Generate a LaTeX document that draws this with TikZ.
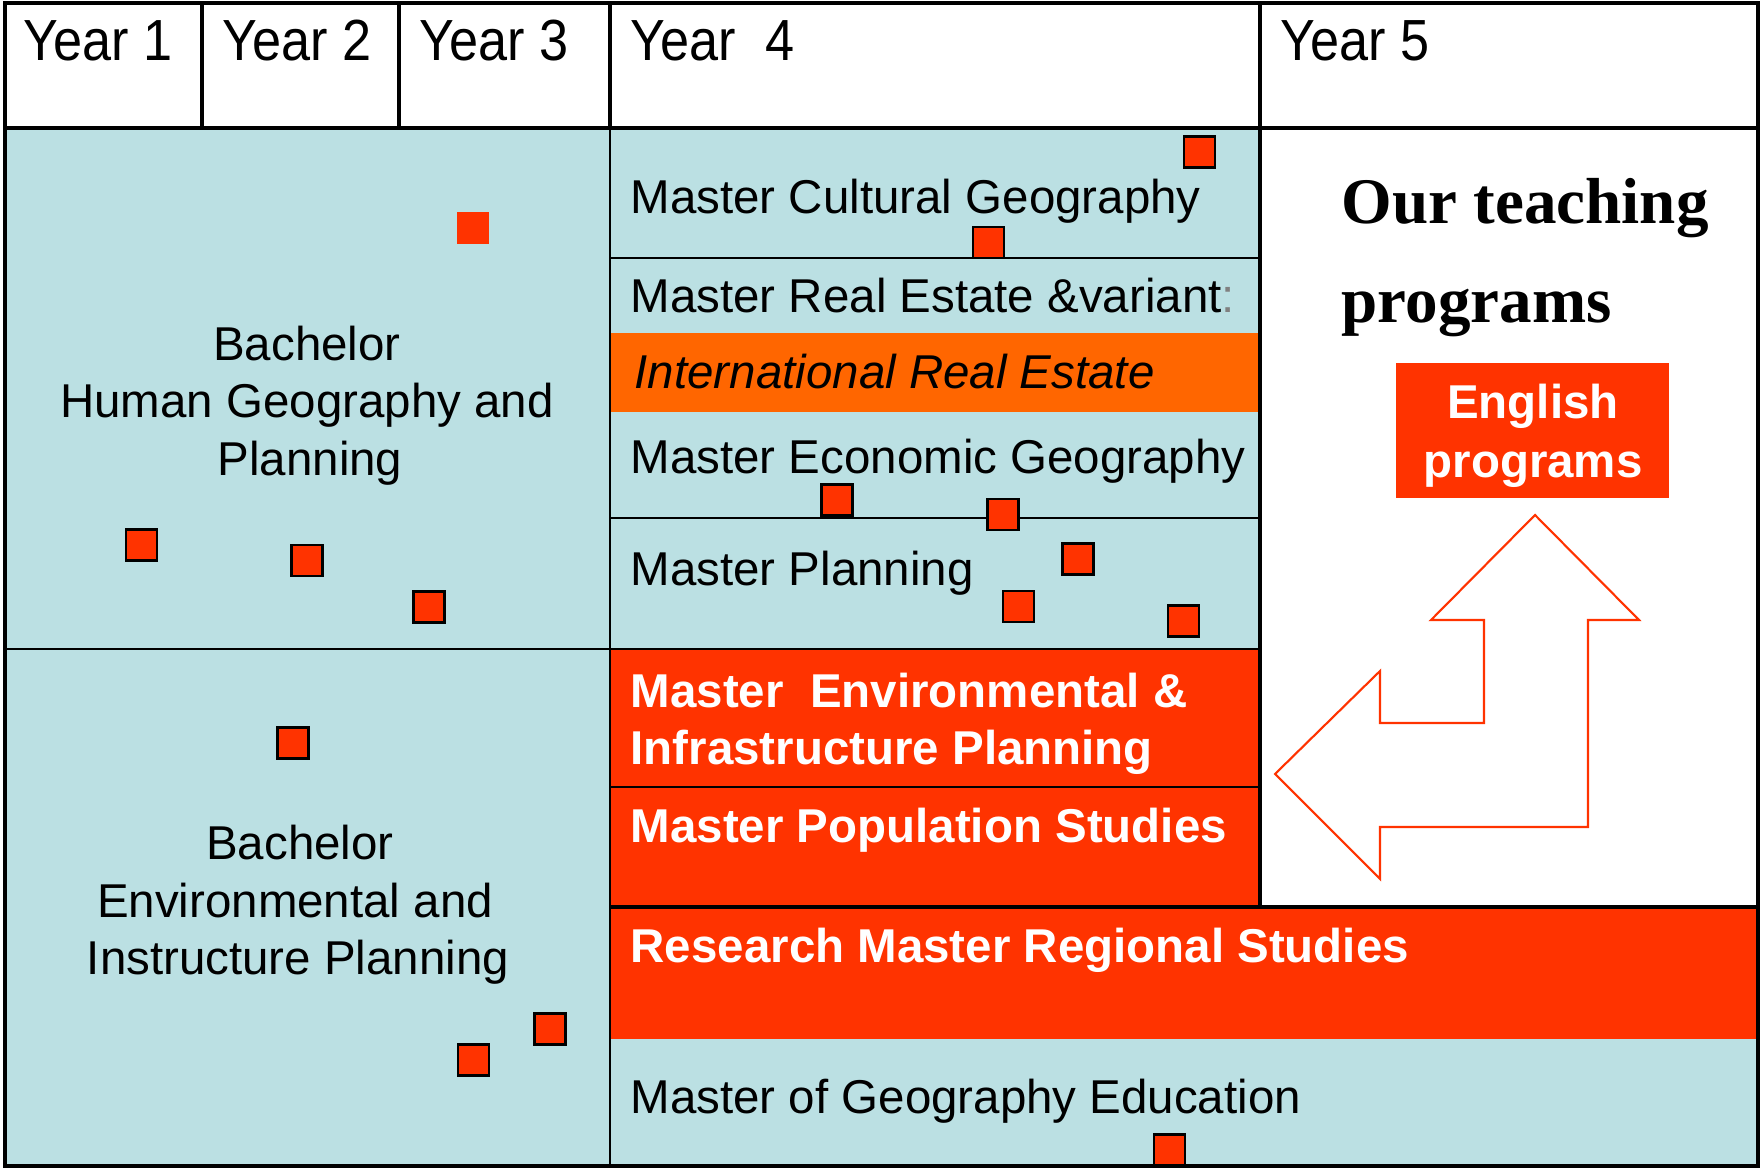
\documentclass[tikz,border=0pt]{standalone}
\usepackage{fontspec}
\setmainfont{Liberation Sans}
\newfontfamily\hdrfont[FakeStretch=0.9]{Liberation Sans}
\newfontfamily\titlefont{Liberation Serif}
\definecolor{lb}{RGB}{187,224,227}
\definecolor{rd}{RGB}{255,51,0}
\definecolor{og}{RGB}{255,102,0}
\begin{document}
\begin{tikzpicture}[x=0.01cm,y=-0.01cm,
  txt/.style={inner sep=0pt, anchor=base west, font=\fontsize{13.5}{16}\selectfont},
  ctxt/.style={inner sep=0pt, anchor=base, font=\fontsize{13.5}{16}\selectfont},
  wtxt/.style={inner sep=0pt, anchor=base west, text=white, font=\fontsize{13.5}{16}\selectfont\bfseries},
  hdr/.style={inner sep=0pt, anchor=base west, font=\hdrfont\fontsize{16.5}{19}\selectfont},
  ttl/.style={inner sep=0pt, anchor=base west, font=\titlefont\bfseries\fontsize{18.5}{22}\selectfont},
  mk/.style={fill=rd, draw=black, line width=0.6pt, minimum size=0.31cm, inner sep=0pt},
  thinline/.style={line width=0.6pt},
  heavyline/.style={line width=1.2pt},
  arrowline/.style={draw=rd, line width=0.6pt, line join=miter}
]
% canvas
\fill[white] (0,0) rectangle (1761,1170);
% fills
\fill[lb] (5,128) rectangle (1260,649);
\fill[lb] (5,649) rectangle (610,1166);
\fill[og] (610,333) rectangle (1260,412);
\fill[rd] (610,649) rectangle (1260,907);
\fill[rd] (610,907) rectangle (1758,1039);
\fill[lb] (610,1039) rectangle (1758,1166);
% grid lines
\draw[thinline] (610,128) -- (610,1166);
\draw[thinline] (5,649) -- (1260,649);
\draw[thinline] (610,258) -- (1260,258);
\draw[thinline] (610,518) -- (1260,518);
\draw[thinline] (610,787) -- (1260,787);
\draw[line width=0.9pt] (610,907) -- (1758,907);
\draw[heavyline] (5,128) -- (1758,128);
\draw[heavyline] (202,3) -- (202,128);
\draw[heavyline] (399,3) -- (399,128);
\draw[heavyline] (610,3) -- (610,128);
\draw[heavyline] (1260,3) -- (1260,907);
\draw[heavyline] (5,3) rectangle (1758,1166);
% header
\node[hdr] (y1) at (23,61) {Year 1};
\node[hdr] (y2) at (222,61) {Year 2};
\node[hdr] (y3) at (419,61) {Year 3};
\node[hdr] (y4) at (630,61) {Year\ \ 4};
\node[hdr] (y5) at (1280,61) {Year 5};
% bachelors
\node[ctxt] (b1a) at (307,360) {Bachelor};
\node[ctxt] (b1b) at (307,417) {Human Geography and};
\node[ctxt] (b1c) at (310,475) {Planning};
\node[ctxt] (b2a) at (300,859) {Bachelor};
\node[ctxt] (b2b) at (295,917) {Environmental and};
\node[ctxt] (b2c) at (298,974) {Instructure Planning};
% masters
\node[txt] (mcg) at (630,214) {Master Cultural Geography};
\node[txt] (mre) at (630,312) {Master Real Estate \&variant\textcolor{gray}{:}};
\node[txt] (ire) at (634,388) {\itshape International Real Estate};
\node[txt] (meg) at (630,473) {Master Economic Geography};
\node[txt] (mpl) at (630,585) {Master Planning};
\node[wtxt] (mei1) at (630,707) {Master\ \ Environmental \&};
\node[wtxt] (mei2) at (630,764) {Infrastructure Planning};
\node[wtxt] (mps) at (630,842) {Master Population Studies};
\node[wtxt] (rms) at (630,962) {Research Master Regional Studies};
\node[txt] (mge) at (630,1113) {Master of Geography Education};
% title
\node[ttl] (t1) at (1341,223) {Our teaching};
\node[ttl] (t2) at (1341,322) {programs};
\node[fill=rd, minimum width=2.73cm, minimum height=1.35cm, inner sep=0pt] (eng) at (1532.5,430.5) {};
\node[wtxt, anchor=base] (eng1) at (1533,418) {English};
\node[wtxt, anchor=base] (eng2) at (1533,477) {programs};
% arrow
\draw[arrowline] (1535,515) -- (1639,620) -- (1588,620) -- (1588,827) -- (1380,827) -- (1380,879)
  -- (1275,774) -- (1380,671) -- (1380,723) -- (1484,723) -- (1484,620) -- (1431,620) -- cycle;
% markers
\node[mk, draw=none] (s1) at (473,228) {};
\node[mk] (s2) at (141.5,545) {};
\node[mk] (s3) at (307,560.5) {};
\node[mk] (s4) at (429,607) {};
\node[mk] (s5) at (293,743) {};
\node[mk] (s6) at (550,1029) {};
\node[mk] (s7) at (473.5,1060) {};
\node[mk] (s8) at (1199.7,152) {};
\node[mk] (s9) at (988.6,242.7) {};
\node[mk] (s10) at (837,500) {};
\node[mk] (s11) at (1003,514.5) {};
\node[mk] (s12) at (1078,559) {};
\node[mk] (s13) at (1018.6,606.5) {};
\node[mk] (s14) at (1183.7,621) {};
\node[mk] (s15) at (1169.6,1150) {};
\end{tikzpicture}
\end{document}
